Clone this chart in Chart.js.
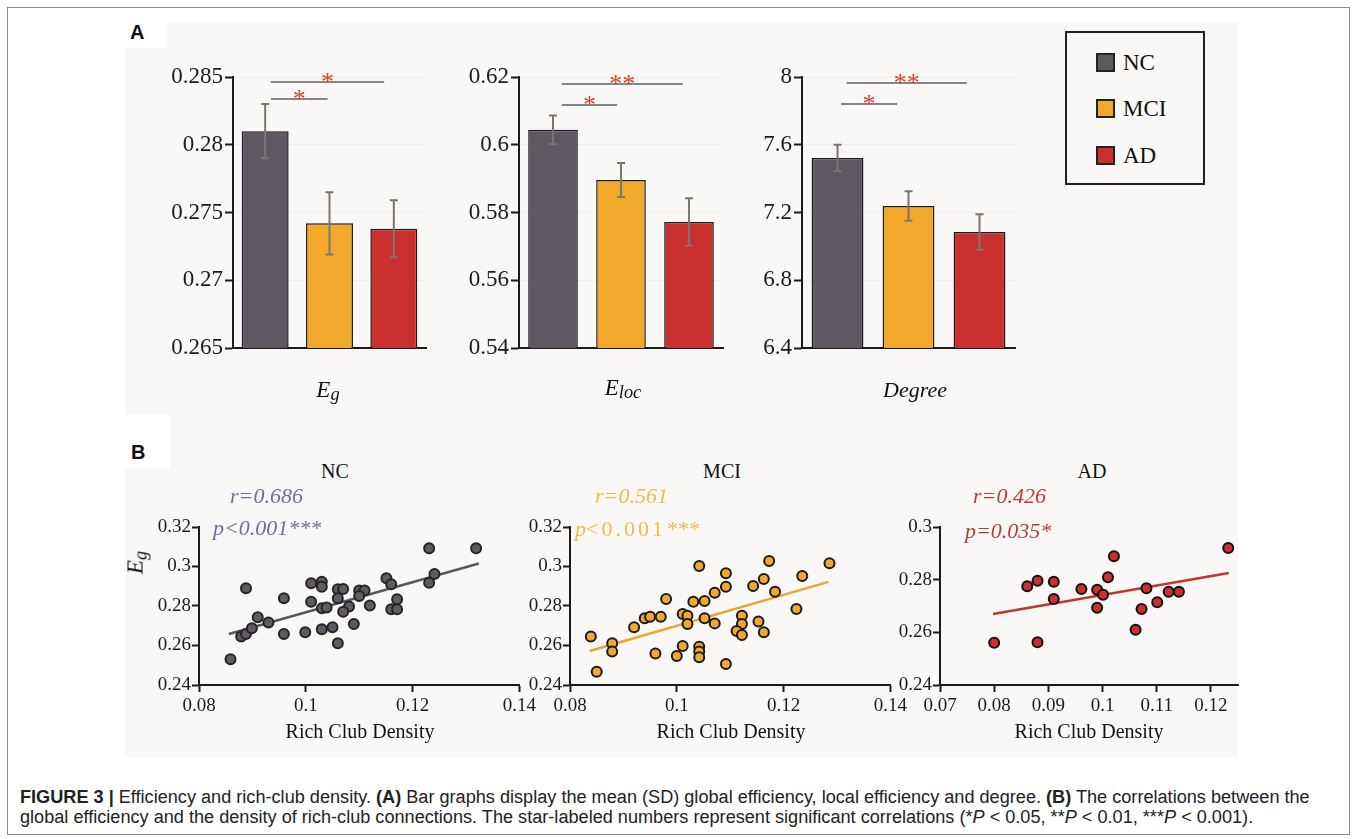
<!DOCTYPE html>
<html>
<head>
<meta charset="utf-8">
<script src="https://cdn.jsdelivr.net/npm/chart.js@4.4.1/dist/chart.umd.min.js"></script>
<style>
  body { margin: 0; background: #fff; width: 1357px; height: 839px; overflow: hidden; position: relative; }
  .box { position: absolute; }
  #frame { left: 7px; top: 7px; width: 1341px; height: 826px; border: 1px solid #8c8c8c; }
  #panelBg { left: 125px; top: 22px; width: 1113px; height: 735px; background: #faf8f6; }
  canvas { position: absolute; }
  #legend { left: 1065px; top: 31px; width: 136px; height: 150px; border: 2px solid #222; }
  .sw { position: absolute; width: 15px; height: 15px; border: 2px solid #222; }
  .txt { position: absolute; white-space: nowrap; }
</style>
</head>
<body>
<div class="box" id="frame"></div>
<div class="box" id="panelBg"></div>
<div class="box" style="left:125px;top:22px;width:42px;height:26px;background:#fff"></div>
<div class="box" style="left:125px;top:415px;width:45px;height:53px;background:#fff"></div>

<canvas id="egChart" width="300" height="370" style="left:140px;top:50px"></canvas>
<canvas id="elocChart" width="310" height="370" style="left:426px;top:50px"></canvas>
<canvas id="degChart" width="320" height="370" style="left:709px;top:50px"></canvas>

<canvas id="ncScatter" width="400" height="240" style="left:139px;top:505px"></canvas>
<canvas id="mciScatter" width="400" height="240" style="left:510px;top:505px"></canvas>
<canvas id="adScatter" width="380" height="240" style="left:880px;top:505px"></canvas>

<div class="box" id="legend"></div>

<script>
// Panel A: group means (SD)
const groups = ['NC', 'MCI', 'AD'];
const groupColors = ['#5e5863', '#f2a92b', '#c9302e'];

const egMean = [0.2810, 0.2742, 0.2738];
const egSD = [0.0020, 0.0023, 0.0021];
const egTicks = [0.265, 0.27, 0.275, 0.28, 0.285];

const elocMean = [0.6044, 0.5896, 0.5772];
const elocSD = [0.0042, 0.0050, 0.0070];
const elocTicks = [0.54, 0.56, 0.58, 0.6, 0.62];

const degreeMean = [7.522, 7.238, 7.085];
const degreeSD = [0.078, 0.087, 0.105];
const degreeTicks = [6.4, 6.8, 7.2, 7.6, 8];

// Panel B: rich club density vs Eg
const ncDensity = [0.0888, 0.0859, 0.0879, 0.0888, 0.0899, 0.0910, 0.0930, 0.0959, 0.0959, 0.0999,
  0.1010, 0.1010, 0.1030, 0.1030, 0.1030, 0.1039, 0.1030, 0.1050, 0.1060, 0.1060,
  0.1070, 0.1060, 0.1081, 0.1070, 0.1090, 0.1100, 0.1110, 0.1100, 0.1120, 0.1151,
  0.1160, 0.1171, 0.1160, 0.1171, 0.1231, 0.1241, 0.1231, 0.1319];
const ncEg = [0.2890, 0.2530, 0.2645, 0.2658, 0.2687, 0.2743, 0.2716, 0.2839, 0.2658, 0.2667,
  0.2915, 0.2822, 0.2923, 0.2898, 0.2788, 0.2793, 0.2682, 0.2692, 0.2611, 0.2885,
  0.2886, 0.2839, 0.2797, 0.2771, 0.2709, 0.2878, 0.2878, 0.2851, 0.2802, 0.2940,
  0.2910, 0.2834, 0.2783, 0.2783, 0.3092, 0.2962, 0.2918, 0.3092];

const mciDensity = [0.0839, 0.0850, 0.0879, 0.0879, 0.0920, 0.0940, 0.0950, 0.0970, 0.0960, 0.0980,
  0.1011, 0.1020, 0.1020, 0.1011, 0.1000, 0.1042, 0.1031, 0.1052, 0.1052, 0.1042,
  0.1042, 0.1042, 0.1071, 0.1071, 0.1092, 0.1092, 0.1092, 0.1122, 0.1122, 0.1112,
  0.1122, 0.1143, 0.1163, 0.1173, 0.1184, 0.1153, 0.1163, 0.1224, 0.1235, 0.1286];
const mciEg = [0.2645, 0.2467, 0.2611, 0.2569, 0.2692, 0.2738, 0.2746, 0.2746, 0.2560, 0.2835,
  0.2759, 0.2751, 0.2709, 0.2597, 0.2547, 0.3003, 0.2822, 0.2825, 0.2738, 0.2594,
  0.2569, 0.2540, 0.2867, 0.2712, 0.2966, 0.2898, 0.2506, 0.2751, 0.2709, 0.2673,
  0.2653, 0.2901, 0.2937, 0.3028, 0.2872, 0.2721, 0.2667, 0.2785, 0.2952, 0.3016];

const adDensity = [0.0800, 0.0861, 0.0880, 0.0880, 0.0910, 0.0910, 0.0961, 0.0990, 0.1001, 0.0990,
  0.1010, 0.1021, 0.1061, 0.1072, 0.1081, 0.1101, 0.1122, 0.1141, 0.1232];
const adEg = [0.2560, 0.2775, 0.2796, 0.2562, 0.2792, 0.2727, 0.2765, 0.2762, 0.2743, 0.2693,
  0.2809, 0.2889, 0.2610, 0.2689, 0.2767, 0.2714, 0.2754, 0.2754, 0.2920];

// fitted lines, end points
const ncFitX = [0.0856, 0.1324], ncFitY = [0.2658, 0.3015];
const mciFitX = [0.0837, 0.1284], mciFitY = [0.2572, 0.2922];
const adFitX = [0.0798, 0.1233], adFitY = [0.2670, 0.2825];

const densityTicks = [0.08, 0.1, 0.12, 0.14];
const adDensityTicks = [0.07, 0.08, 0.09, 0.1, 0.11, 0.12];
const egScatterTicks = [0.24, 0.26, 0.28, 0.3, 0.32];
const adEgTicks = [0.24, 0.26, 0.28, 0.3];

const INK = '#1b1b1b';
const SERIF = '"Liberation Serif", "Times New Roman", serif';

// error bars + significance brackets
const barExtras = {
  id: 'barExtras',
  afterDatasetsDraw(chart, args, opts) {
    const { ctx, chartArea, scales: { x, y } } = chart;
    const ds = chart.data.datasets[0];
    ctx.save();
    ctx.strokeStyle = '#7b7570';
    ctx.lineWidth = 2;
    chart.getDatasetMeta(0).data.forEach((bar, i) => {
      const top = y.getPixelForValue(ds.data[i] + opts.errors[i]);
      const bot = y.getPixelForValue(ds.data[i] - opts.errors[i]);
      ctx.beginPath();
      ctx.moveTo(bar.x, top); ctx.lineTo(bar.x, bot);
      ctx.moveTo(bar.x - 4, top); ctx.lineTo(bar.x + 4, top);
      ctx.moveTo(bar.x - 4, bot); ctx.lineTo(bar.x + 4, bot);
      ctx.stroke();
    });
    opts.brackets.forEach(b => {
      const x1 = x.getPixelForValue(b.from), x2 = x.getPixelForValue(b.to);
      const yy = chartArea.top + b.dy;
      ctx.strokeStyle = '#5f5f5f';
      ctx.lineWidth = 1.5;
      ctx.beginPath(); ctx.moveTo(x1, yy); ctx.lineTo(x2, yy); ctx.stroke();
      ctx.fillStyle = '#d8442e';
      ctx.font = '26px ' + SERIF;
      ctx.textAlign = 'center';
      ctx.textBaseline = 'alphabetic';
      ctx.fillText(b.label, (x1 + x2) / 2, yy + 8);
    });
    ctx.restore();
  }
};

function barChart(id, means, sds, ticks, brackets, yWidth, padRight) {
  new Chart(document.getElementById(id), {
    type: 'bar',
    data: {
      labels: groups,
      datasets: [{
        data: means,
        backgroundColor: groupColors,
        borderColor: INK,
        borderWidth: 1.5,
        borderSkipped: false,
        barPercentage: 0.73,
        categoryPercentage: 1
      }]
    },
    options: {
      responsive: false,
      animation: false,
      layout: { padding: { top: 27, right: padRight, left: 0, bottom: 0 } },
      plugins: {
        legend: { display: false },
        tooltip: { enabled: false },
        barExtras: { errors: sds, brackets: brackets }
      },
      scales: {
        x: {
          grid: { display: false },
          border: { color: INK, width: 2 },
          ticks: { display: false },
          afterFit: s => { s.height = 72; }
        },
        y: {
          min: ticks[0],
          max: ticks[ticks.length - 1],
          afterBuildTicks: a => { a.ticks = ticks.map(v => ({ value: v })); },
          grid: { color: '#f1ece7', tickColor: INK, tickLength: 8, lineWidth: 1, tickWidth: 2 },
          border: { color: INK, width: 2 },
          ticks: { color: INK, padding: 2, font: { family: SERIF, size: 23 }, callback: v => String(v) },
          afterFit: s => { s.width = yWidth; }
        }
      }
    },
    plugins: [barExtras]
  });
}

barChart('egChart', egMean, egSD, egTicks, [
  { from: 0.09, to: 0.97, dy: 22, label: '*' },
  { from: 0.09, to: 1.85, dy: 5, label: '*' }
], 93, 14);
barChart('elocChart', elocMean, elocSD, elocTicks, [
  { from: 0.13, to: 0.94, dy: 28, label: '*' },
  { from: 0.13, to: 1.91, dy: 7, label: '**' }
], 93, 13);
barChart('degChart', degreeMean, degreeSD, degreeTicks, [
  { from: 0.05, to: 0.84, dy: 27, label: '*' },
  { from: 0.13, to: 1.82, dy: 6, label: '**' }
], 93, 14);

function scatterChart(id, xs, ys, fitX, fitY, xTicks, yTicks, style, padRight) {
  new Chart(document.getElementById(id), {
    type: 'scatter',
    data: {
      datasets: [
        {
          data: fitX.map((v, i) => ({ x: v, y: fitY[i] })),
          showLine: true,
          borderColor: style.line,
          borderWidth: 2.5,
          pointRadius: 0,
          order: 2,
          clip: false
        },
        {
          data: xs.map((v, i) => ({ x: v, y: ys[i] })),
          backgroundColor: style.fill,
          borderColor: style.edge,
          borderWidth: 2,
          pointRadius: 5,
          order: 1,
          clip: false
        }
      ]
    },
    options: {
      responsive: false,
      animation: false,
      layout: { padding: { top: 22, right: padRight, left: 0, bottom: 0 } },
      plugins: { legend: { display: false }, tooltip: { enabled: false } },
      scales: {
        x: {
          type: 'linear',
          min: xTicks[0],
          max: style.xMax,
          afterBuildTicks: a => { a.ticks = xTicks.map(v => ({ value: v })); },
          grid: { drawOnChartArea: false, tickColor: INK, tickLength: 7, tickWidth: 2 },
          border: { color: INK, width: 2 },
          ticks: { color: INK, padding: 3, maxRotation: 0, font: { family: SERIF, size: 19 }, callback: v => String(v) },
          afterFit: s => { s.height = 60; }
        },
        y: {
          min: yTicks[0],
          max: yTicks[yTicks.length - 1],
          afterBuildTicks: a => { a.ticks = yTicks.map(v => ({ value: v })); },
          grid: { drawOnChartArea: false, tickColor: INK, tickLength: 7, tickWidth: 2 },
          border: { color: INK, width: 2 },
          ticks: { color: INK, padding: 1, font: { family: SERIF, size: 19 }, callback: v => String(v) },
          afterFit: s => { s.width = 60; }
        }
      }
    }
  });
}

scatterChart('ncScatter', ncDensity, ncEg, ncFitX, ncFitY, densityTicks, egScatterTicks,
  { fill: '#5f5a63', edge: '#262326', line: '#58585c', xMax: 0.14 }, 17);
scatterChart('mciScatter', mciDensity, mciEg, mciFitX, mciFitY, densityTicks, egScatterTicks,
  { fill: '#f0a830', edge: '#1a1a1a', line: '#eda52c', xMax: 0.14 }, 18);
scatterChart('adScatter', adDensity, adEg, adFitX, adFitY, adDensityTicks, adEgTicks,
  { fill: '#c9302f', edge: '#111', line: '#c0362c', xMax: 0.125 }, 22);

// text helper: x = left (or centre), base = baseline
function addText(html, x, base, size, o = {}) {
  const d = document.createElement('div');
  d.className = 'txt';
  d.innerHTML = html;
  const sans = !!o.sans;
  d.style.fontFamily = sans ? '"Liberation Sans", Arial, sans-serif' : SERIF;
  d.style.fontSize = size + 'px';
  d.style.lineHeight = size + 'px';
  d.style.color = o.color || '#111';
  d.style.fontStyle = o.italic ? 'italic' : 'normal';
  d.style.fontWeight = o.bold ? 'bold' : 'normal';
  d.style.left = x + 'px';
  d.style.top = (base - (sans ? 0.847 : 0.838) * size) + 'px';
  if (o.align === 'center') d.style.transform = 'translateX(-50%)';
  document.body.appendChild(d);
  return d;
}
const sub = t => '<span style="font-size:0.8em;position:relative;top:0.2em">' + t + '</span>';

// panel letters
addText('A', 130, 39, 20, { sans: true, bold: true });
addText('B', 131, 459, 20, { sans: true, bold: true });

// bar chart axis names
addText('E' + sub('g'), 328, 397, 23, { italic: true, align: 'center' });
addText('E' + sub('loc'), 623, 395, 23, { italic: true, align: 'center' });
addText('Degree', 915, 397, 22, { italic: true, align: 'center' });

// legend
const legend = document.getElementById('legend');
[62, 108, 155].forEach((cy, i) => {
  const s = document.createElement('div');
  s.className = 'sw';
  s.style.left = (1096 - 1067) + 'px';
  s.style.top = (cy - 9 - 33) + 'px';
  s.style.background = groupColors[i];
  legend.appendChild(s);
  addText(groups[i], 1123, cy + 8, 23);
});

// scatter titles and stats
addText('NC', 335, 478, 20, { align: 'center' });
addText('MCI', 722, 478, 20, { align: 'center' });
addText('AD', 1092, 478, 20, { align: 'center' });

addText('r=0.686', 230, 503, 22, { italic: true, color: '#6c6f9c' });
addText('p&lt;0.001***', 213, 535, 22, { italic: true, color: '#6c6f9c' });
addText('r=0.561', 595, 503, 22, { italic: true, color: '#e9bd4c' });
addText('<i>p</i><span style="letter-spacing:3px">&lt;0.001</span><i>***</i>', 575, 536, 22, { color: '#e9bd4c' });
addText('r=0.426', 973, 503, 22, { italic: true, color: '#b93b33' });
addText('p=0.035*', 965, 538, 22, { italic: true, color: '#b93b33' });

const yTitle = addText('E' + sub('g'), 136, 569, 23, { italic: true, align: 'center' });
yTitle.style.transform = 'translateX(-50%) rotate(-90deg)';

addText('Rich Club Density', 360, 738, 20, { align: 'center' });
addText('Rich Club Density', 731, 738, 20, { align: 'center' });
addText('Rich Club Density', 1089, 738, 20, { align: 'center' });

// caption
const cap1 = addText('<b>FIGURE 3 |</b> Efficiency and rich-club density. <b>(A)</b> Bar graphs display the mean (SD) global efficiency, local efficiency and degree. <b>(B)</b> The correlations between the', 20, 803, 18, { sans: true, color: '#222' });
const cap2 = addText('global efficiency and the density of rich-club connections. The star-labeled numbers represent significant correlations (*<i>P</i> &lt; 0.05, **<i>P</i> &lt; 0.01, ***<i>P</i> &lt; 0.001).', 20, 823, 18, { sans: true, color: '#222' });
const k = 1290 / cap1.scrollWidth;
[cap1, cap2].forEach(c => { c.style.transformOrigin = '0 0'; c.style.transform = 'scaleX(' + k + ')'; });
</script>
</body>
</html>
